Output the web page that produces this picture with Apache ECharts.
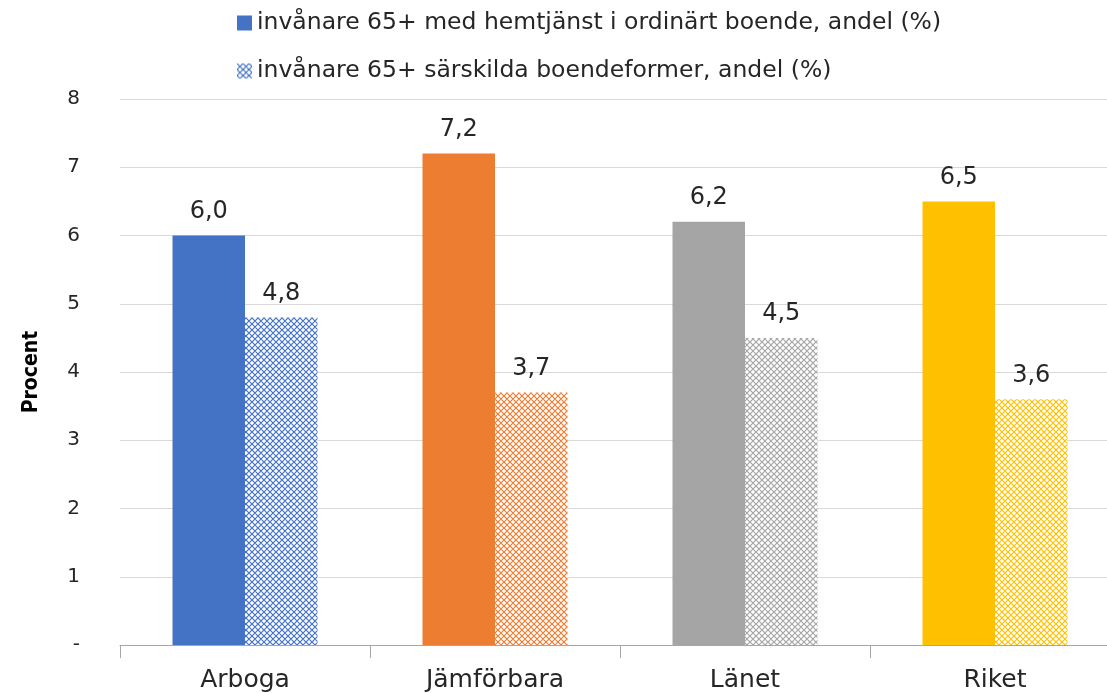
<!DOCTYPE html>
<html>
<head>
<meta charset="utf-8">
<script src="https://cdn.jsdelivr.net/npm/echarts@6/dist/echarts.min.js"></script>
<style>
  html, body { margin: 0; padding: 0; background: #fff; overflow: hidden; }
  /* the original plot runs past the right edge of the picture */
  #chart { width: 1120px; height: 693px; }
</style>
</head>
<body>
<div id="chart"></div>
<script>
// data
const categories = ['Arboga', 'Jämförbara', 'Länet', 'Riket'];
const hemtjanst = [6.0, 7.2, 6.2, 6.5];
const sarskilda = [4.8, 3.7, 4.5, 3.6];
const seriesNames = [
  'invånare 65+ med hemtjänst i ordinärt boende, andel (%)',
  'invånare 65+ särskilda boendeformer, andel (%)'
];
const barColors = ['#4472C4', '#ED7D31', '#A5A5A5', '#FFC000'];

// lattice pattern used for the second series
function makePattern(color) {
  const c = document.createElement('canvas');
  c.width = 6;
  c.height = 6;
  const ctx = c.getContext('2d');
  ctx.fillStyle = '#fff';
  ctx.fillRect(0, 0, 6, 6);
  ctx.strokeStyle = color;
  ctx.lineWidth = 1.2;
  ctx.beginPath();
  ctx.moveTo(-3, 3); ctx.lineTo(3, 9);
  ctx.moveTo(0, 0); ctx.lineTo(6, 6);
  ctx.moveTo(3, -3); ctx.lineTo(9, 3);
  ctx.moveTo(9, 3); ctx.lineTo(3, 9);
  ctx.moveTo(6, 0); ctx.lineTo(0, 6);
  ctx.moveTo(3, -3); ctx.lineTo(-3, 3);
  ctx.stroke();
  return { image: c, repeat: 'repeat' };
}

const fmt = p => p.value.toFixed(1).replace('.', ',');
const labelStyle = {
  show: true,
  position: 'top',
  distance: 12,
  formatter: fmt,
  color: '#262626',
  fontFamily: 'DejaVu Sans',
  fontSize: 24
};

let myChart = echarts.init(document.getElementById('chart'));
const option = {
  animation: false,
  legend: {
    orient: 'vertical',
    left: 232,
    top: 4,
    itemGap: 20,
    itemWidth: 15,
    itemHeight: 15,
    icon: 'rect',
    textStyle: { fontFamily: 'DejaVu Sans', fontSize: 23.5, color: '#262626', lineHeight: 28 },
    data: seriesNames
  },
  grid: { left: 120, top: 99, right: 0, bottom: 46 },
  xAxis: {
    type: 'category',
    data: categories,
    axisLine: { lineStyle: { color: '#a6a6a6' } },
    axisTick: { show: true, length: 13, lineStyle: { color: '#a6a6a6' } },
    axisLabel: { margin: 23, color: '#262626', fontFamily: 'DejaVu Sans', fontSize: 25 }
  },
  yAxis: {
    type: 'value',
    min: 0,
    max: 8,
    interval: 1,
    name: 'Procent',
    nameLocation: 'middle',
    nameGap: 78,
    nameTextStyle: { fontFamily: 'DejaVu Sans Condensed', fontWeight: 'bold', fontSize: 21, color: '#000' },
    axisLabel: {
      margin: 40,
      color: '#262626',
      fontFamily: 'DejaVu Sans',
      fontSize: 20,
      formatter: v => (v === 0 ? '-' : v)
    },
    splitLine: { lineStyle: { color: '#d9d9d9' } }
  },
  series: [
    {
      name: seriesNames[0],
      type: 'bar',
      barGap: '0%',
      barCategoryGap: '42%',
      itemStyle: { color: barColors[0] },
      label: labelStyle,
      data: hemtjanst.map((v, i) => ({ value: v, itemStyle: { color: barColors[i] } }))
    },
    {
      name: seriesNames[1],
      type: 'bar',
      itemStyle: { color: makePattern(barColors[0]) },
      label: labelStyle,
      data: sarskilda.map((v, i) => ({ value: v, itemStyle: { color: makePattern(barColors[i]) } }))
    }
  ]
};
myChart.setOption(option);
</script>
</body>
</html>
